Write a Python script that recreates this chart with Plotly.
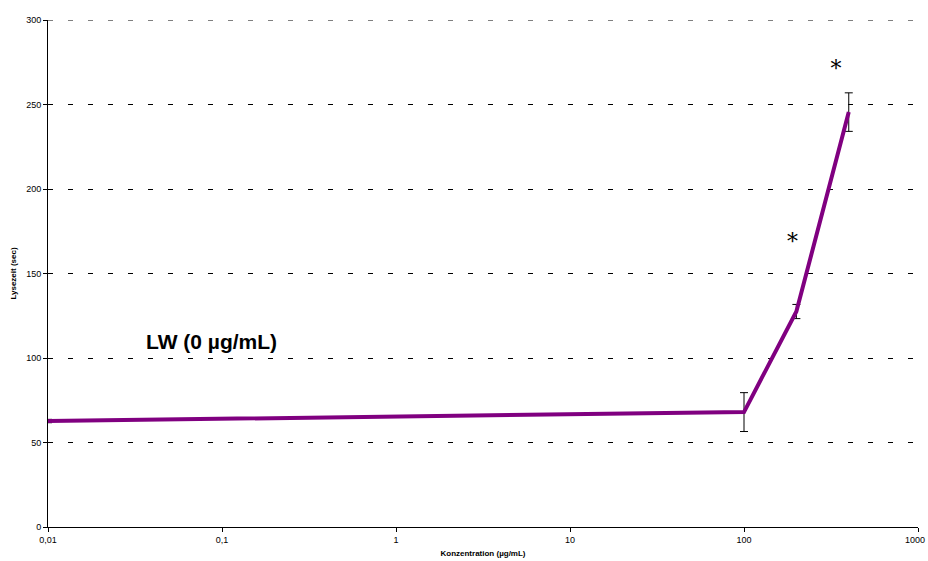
import plotly.graph_objects as go

conc = [0.01, 100, 200, 400]
lysis = [62.7, 68, 127.5, 245.5]
err = [1.0, 11.5, 4.2, 11.4]

star_x = [190, 338]
star_y = [168, 270]

x_ticks = [0.01, 0.1, 1, 10, 100, 1000]
x_tick_text = ["0,01", "0,1", "1", "10", "100", ""]
y_ticks = [0, 50, 100, 150, 200, 250, 300]

fig = go.Figure()
fig.add_trace(go.Scatter(
    x=conc, y=lysis, mode="lines",
    line=dict(color="#800080", width=4),
    error_y=dict(type="data", array=err, visible=True, color="black", thickness=1, width=4),
    showlegend=False,
))
fig.add_trace(go.Scatter(
    x=star_x, y=star_y, mode="text", text=["*", "*"],
    textfont=dict(family="DejaVu Serif, serif", size=22, color="black"),
    showlegend=False,
))
fig.add_annotation(x=-1.063, y=109.5, xref="x", yref="y", text="<b>LW (0 µg/mL)</b>",
                   showarrow=False, font=dict(family="Liberation Sans, Arial", size=21, color="black"))
# last x tick label, kept inside the page at the right edge
fig.add_annotation(x=3, y=0, xref="x", yref="paper", text="1000", showarrow=False,
                   xanchor="right", xshift=9, yanchor="top", yshift=-6,
                   font=dict(family="Liberation Sans, Arial", size=9, color="black"))
# top gridline at 300
fig.add_shape(type="line", xref="paper", yref="y", x0=0, x1=1, y0=300, y1=300,
              line=dict(color="black", width=1, dash="5px,15px"))

fig.update_layout(
    width=928, height=561,
    margin=dict(l=48, r=10, t=20, b=34, autoexpand=False),
    paper_bgcolor="white", plot_bgcolor="white",
    font=dict(family="Liberation Sans, Arial", size=9, color="black"),
)
fig.update_xaxes(
    type="log", range=[-2, 3], tickvals=x_ticks, ticktext=x_tick_text,
    showline=True, linecolor="black", linewidth=1, automargin=False,
    ticks="outside", ticklen=4, tickcolor="black", showgrid=False, zeroline=False,
    title=dict(text="<b>Konzentration (µg/mL)</b>", font=dict(size=8), standoff=6),
)
fig.update_yaxes(
    range=[0, 300], tickvals=y_ticks, automargin=False,
    showline=True, linecolor="black", linewidth=1,
    ticks="outside", ticklen=4, tickcolor="black",
    showgrid=True, gridcolor="black", gridwidth=1, griddash="5px,15px", zeroline=False,
    title=dict(text="<b>Lysezeit (sec)</b>", font=dict(size=8), standoff=8),
)
fig.write_html("out.html")
